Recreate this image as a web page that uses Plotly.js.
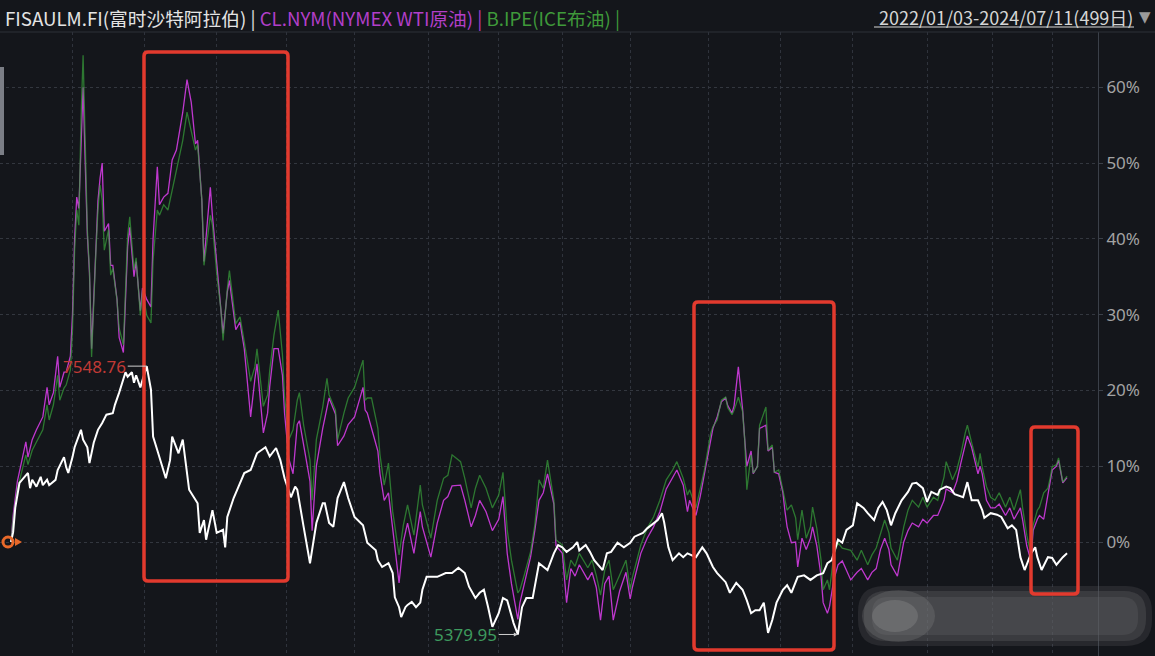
<!DOCTYPE html>
<html><head><meta charset="utf-8">
<script src="https://cdn.plot.ly/plotly-3.0.1.min.js"></script>
<style>html,body{margin:0;padding:0;background:#14161b;overflow:hidden;}#chart{width:1155px;height:656px;}</style>
</head><body><div id="chart"></div>
<script>
// ---------------- DATA (percent change vs 2022/01/03, x = trading-day index) ----------------
const seriesNames = ['FISAULM.FI(富时沙特阿拉伯)', 'CL.NYM(NYMEX WTI原油)', 'B.IPE(ICE布油)'];
const dateRangeText = '2022/01/03-2024/07/11(499日)';
const maxLabel = '7548.76';
const minLabel = '5379.95';

const whiteDays = [0,1,2,4,7,8,9,10,12,14,15,17,18,21,22,24,25,26,27,29,30,33,34,36,37,39,41,43,45,48,49,51,53,54,55,57,58,59,61,62,64,66,67,69,71,73,75,76,79,81,82,84,88,89,91,92,95,97,100,101,102,105,107,110,113,116,120,122,125,127,129,132,134,135,138,141,144,147,148,150,152,154,157,159,162,166,168,172,173,175,178,180,181,183,184,186,187,189,191,193,194,196,199,201,205,208,211,214,216,219,221,223,225,227,230,232,234,237,239,241,243,246,249,251,253,256,258,260,262,265,267,268,271,273,275,279,281,283,286,289,292,294,298,300,303,305,307,308,310,312,315,317,319,323,326,328,331,333,337,339,342,345,347,349,351,353,355,357,359,361,364,366,368,371,374,377,380,383,385,387,390,392,394,397,399,402,404,407,409,411,413,415,417,420,423,425,427,430,432,434,437,438,441,443,445,449,451,453,456,458,459,462,465,467,470,472,474,476,478,481,483,484,486,489,491,493,496,498];
const whitePct = [0,1.3,4.5,7.8,8.8,9.1,7.1,8.2,7.3,8.6,7.5,8.2,7.5,8.2,9.5,10.8,11.2,9.9,9.1,11.2,12.5,14.8,13.5,12.5,10.4,13.1,14.8,15.7,16.8,17.0,18.1,19.7,21.4,22.4,21.8,22.4,21.0,22.0,20.4,21.4,23.2,20.1,13.9,12.1,10.2,8.4,10.8,13.9,11.7,13.5,11.3,6.9,5.1,1.2,2.9,0.3,4.2,1.2,1.6,-0.7,3.3,5.8,7.1,9.1,9.5,11.7,12.5,11.3,12.4,10.8,8.4,5.9,7.3,6.9,2.0,-2.8,2.5,5.1,5.1,2.5,2.0,5.8,7.9,5.8,3.3,2.2,-0.1,-1.1,-2.4,-3.3,-2.8,-4.1,-7.3,-8.6,-9.9,-8.6,-8.3,-7.9,-8.6,-8.0,-6.3,-4.6,-4.6,-4.6,-4.1,-4.1,-3.4,-4.1,-5.9,-7.4,-6.7,-6.3,-8.6,-11.2,-9.4,-7.4,-7.7,-10.7,-12.2,-8.6,-7.4,-7.4,-2.8,-3.3,-3.7,-1.5,-0.4,-0.7,-1.3,-0.7,0.0,-1.1,-0.4,-1.3,-2.4,-3.7,-1.5,-1.3,-0.1,-0.7,-0.1,0.7,1.2,1.8,2.5,2.9,3.8,2.6,-0.7,-2.4,-1.5,-2.0,-1.5,-2.0,-0.7,-1.5,-3.3,-4.1,-5.3,-6.7,-5.4,-6.3,-7.7,-9.4,-9.0,-9.0,-8.0,-12.0,-10.3,-8.0,-6.3,-5.7,-6.7,-4.6,-4.4,-5.0,-4.4,-4.1,-2.8,-2.4,0.3,-0.1,1.6,2.2,5.1,4.5,3.8,2.9,4.5,5.3,4.2,2.2,3.8,5.5,6.6,7.7,7.8,7.1,5.3,6.6,6.2,6.9,7.3,7.1,6.3,5.9,7.9,5.5,5.5,4.2,3.2,3.8,3.6,3.3,1.8,2.2,1.6,-2.0,-3.7,-1.5,-0.7,-2.0,-3.7,-2.0,-2.1,-3.0,-2.0,-1.5];

const oilDays = [0,1,3,7,8,10,12,15,17,18,20,22,23,25,26,28,29,30,31,32,33,34,35,36,37,38,40,41,42,43,44,46,47,48,50,51,53,54,55,56,58,59,61,62,64,66,67,69,70,72,74,76,78,81,83,85,87,88,90,91,94,95,97,99,100,102,103,106,108,110,113,115,116,119,121,122,124,126,128,129,131,133,135,136,138,141,142,144,147,149,150,153,154,157,159,162,166,167,168,170,173,174,176,178,180,183,185,187,190,193,194,198,201,204,206,208,212,214,217,219,221,224,227,230,232,234,236,239,240,242,245,247,249,251,253,256,257,260,262,264,266,268,272,274,276,278,280,282,284,287,290,292,293,297,300,303,306,309,312,314,317,319,320,323,325,327,330,331,333,335,337,338,340,341,343,345,346,347,349,350,352,353,356,357,359,360,362,364,365,366,368,370,371,373,375,377,378,380,382,383,385,386,388,390,392,396,399,401,404,406,408,410,412,414,415,418,421,423,425,428,430,432,435,437,440,441,444,446,448,450,451,453,456,457,458,460,462,464,466,469,471,473,476,477,479,481,482,484,485,487,489,490,491,493,494,496,498];
const brentPct = [0,2.9,6.9,11.5,10.2,12.1,13.2,14.8,18.1,16.1,18.1,22.0,18.7,20.3,20.7,22.7,28.0,38.5,43.8,41.8,55.7,64.2,53.0,41.2,35.9,24.4,38.1,43.8,47.1,45.1,38.5,41.2,35.2,36.1,31.9,28.2,26.0,34.6,40.5,42.9,35.9,37.5,29.9,33.2,29.9,28.9,37.2,43.8,43.1,44.5,43.8,46.4,49.1,53.0,56.7,54.4,51.7,52.4,45.1,36.5,43.1,41.8,35.5,30.6,26.6,33.4,35.8,28.8,29.7,26.4,21.2,23.1,25.5,17.9,19.4,22.6,27.3,30.6,24.7,19.3,13.5,14.8,18.7,19.7,15.4,10.8,5.5,13.5,17.8,21.6,19.4,17.4,13.5,17.0,19.0,20.4,24.0,18.7,19.0,19.0,15.0,11.5,7.5,10.4,4.0,-1.7,2.2,4.9,0.9,7.5,4.9,0.5,5.5,8.4,8.8,11.5,10.6,8.4,4.5,7.1,8.8,7.1,4.5,6.2,9.2,1.6,-2.4,-6.7,-6.3,-4.4,-1.3,2.2,8.2,7.1,10.8,5.5,0.3,-0.4,-5.0,-2.4,-3.2,-1.5,-3.4,-2.4,-4.4,-7.0,-3.7,-2.4,-6.3,-4.4,-2.4,-6.3,-4.7,-0.4,1.8,3.3,5.5,8.2,9.5,10.6,8.4,6.2,6.9,4.5,6.9,9.5,14.4,15.2,16.1,18.7,19.1,17.7,16.8,17.4,19.1,17.2,13.5,6.9,11.5,9.1,9.9,15.4,17.8,12.1,12.8,9.2,9.5,6.9,5.5,4.2,4.9,3.2,0.3,4.2,0.5,2.0,4.6,1.8,-2.4,-6.3,-5.0,-6.3,-1.7,-0.1,-0.8,-1.1,-2.4,-1.1,-3.0,-1.7,-0.8,1.2,2.9,1.2,-0.8,-2.4,2.0,4.2,5.5,4.6,5.9,4.6,5.9,5.5,8.6,10.6,8.2,9.5,11.7,14.4,15.4,13.1,9.9,11.7,9.9,7.3,5.9,5.5,6.5,4.6,5.9,4.2,6.9,4.6,0.9,-1.7,2.2,4.2,4.6,6.5,7.1,8.4,9.9,10.2,11.1,7.9,8.7];
const wtiPct = [0,3.5,8.0,13.2,11.2,13.5,14.8,16.5,20.4,18.1,19.7,24.5,20.4,22.4,22.4,24.5,30.0,40.0,45.5,44.0,52.0,60.0,50.0,40.5,35.5,25.5,38.5,45.0,48.0,50.0,41.0,42.0,36.5,36.5,32.0,27.0,25.0,33.5,39.0,41.5,35.0,37.0,30.5,33.5,32.0,31.0,40.0,49.5,44.5,45.5,46.0,50.4,51.7,56.7,61.0,58.0,52.5,53.0,45.0,37.0,46.8,43.0,37.0,31.5,27.5,33.0,34.5,28.0,29.0,25.5,16.5,21.5,23.5,14.4,17.0,20.5,25.5,25.5,22.0,17.0,11.0,9.0,15.5,16.0,13.0,8.0,1.5,10.0,15.0,18.0,19.0,16.9,12.7,14.0,15.5,16.5,20.4,17.4,17.0,15.0,12.0,9.0,5.5,6.5,1.5,-5.4,0.0,2.5,-1.5,4.0,2.0,-2.0,2.5,5.5,6.0,7.4,7.5,5.5,2.0,3.5,5.5,4.0,1.5,3.0,6.0,-1.5,-5.5,-10.2,-8.0,-5.5,-2.0,1.5,5.5,6.5,9.0,5.0,-0.5,-1.5,-8.0,-3.5,-4.5,-3.0,-5.0,-4.0,-6.0,-10.3,-5.5,-4.5,-10.3,-6.5,-4.0,-7.5,-6.0,-1.5,0.5,2.0,4.0,7.0,8.5,9.5,7.5,4.0,5.5,3.5,6.0,9.0,14.0,15.0,16.5,18.5,19.0,18.0,17.0,18.0,23.1,17.5,13.5,10.0,12.0,9.0,10.0,15.0,15.4,12.0,12.5,9.2,9.0,6.5,4.0,2.0,-0.1,0.0,-3.3,0.5,-1.0,0.5,2.0,-0.5,-4.5,-8.0,-9.4,-8.5,-5.0,-3.0,-2.5,-5.0,-4.0,-3.5,-5.0,-4.0,-3.5,-1.0,0.5,-1.0,-3.0,-4.5,0.0,1.5,2.5,2.0,3.0,2.5,3.5,3.5,5.5,7.0,6.5,8.0,10.5,13.0,14.0,12.5,9.0,10.0,9.0,5.5,4.5,4.5,5.0,3.5,4.5,3.0,4.5,3.0,-0.5,-2.5,1.5,3.0,3.5,3.0,6.5,8.0,9.5,10.0,10.8,7.8,8.5];

const yTickVals = [0,10,20,30,40,50,60];
const yTickText = ['0%','10%','20%','30%','40%','50%','60%'];
const gridDays = [29,63,97,130,162,197,230,260,292,329,363,397,432,463,491];

// ---------------- LAYOUT HELPERS (pixel geometry) ----------------
const W = 1155, H = 656, PL = 0, PR = 1098, PT = 32, PB = 656;
const px = x => (x - PL) / (PR - PL);
const py = y => (PB - y) / (PB - PT);
function roundRect(x0, y0, x1, y1, r) {
  const a = px(x0), b = px(x1), c = py(y0), d = py(y1);
  const rx = r / (PR - PL), ry = r / (PB - PT);
  return `M${a+rx},${c} L${b-rx},${c} Q${b},${c} ${b},${c-ry} L${b},${d+ry} Q${b},${d} ${b-rx},${d} L${a+rx},${d} Q${a},${d} ${a},${d+ry} L${a},${c-ry} Q${a},${c} ${a+rx},${c} Z`;
}
const RED = '#e23a2e';
const boxes = [[144,52,288,581],[694,302,834,650],[1031,427,1078,594]];

const shapes = [];
// blurred redaction blob bottom-right (layered to fake a blur)
shapes.push({type:'path', xref:'paper', yref:'paper', path: roundRect(858,586,1152,646,26), fillcolor:'rgba(95,95,98,0.25)', line:{width:0}, layer:'above'});
shapes.push({type:'path', xref:'paper', yref:'paper', path: roundRect(864,591,1146,641,22), fillcolor:'rgba(95,95,98,0.35)', line:{width:0}, layer:'above'});
shapes.push({type:'path', xref:'paper', yref:'paper', path: roundRect(872,597,1138,635,16), fillcolor:'rgba(100,100,103,0.3)', line:{width:0}, layer:'above'});
shapes.push({type:'circle', xref:'paper', yref:'paper', x0:px(862), x1:px(935), y0:py(642), y1:py(590), fillcolor:'rgba(150,150,150,0.22)', line:{width:0}, layer:'above'});
shapes.push({type:'circle', xref:'paper', yref:'paper', x0:px(872), x1:px(918), y0:py(632), y1:py(600), fillcolor:'rgba(165,165,165,0.25)', line:{width:0}, layer:'above'});
// red boxes
boxes.forEach(b => shapes.push({type:'path', xref:'paper', yref:'paper', path: roundRect(b[0],b[1],b[2],b[3],4), line:{color:RED, width:3.5}, fillcolor:'rgba(0,0,0,0)', layer:'above'}));
// header separator and underline
shapes.push({type:'line', xref:'paper', yref:'paper', x0:0, x1:px(W), y0:py(32), y1:py(32), line:{color:'#2c3038', width:1}});
shapes.push({type:'line', xref:'paper', yref:'paper', x0:px(874), x1:px(1134), y0:py(27), y1:py(27), line:{color:'#d6d6d6', width:1}});
// left scroll handle
shapes.push({type:'rect', xref:'paper', yref:'paper', x0:0, x1:px(4), y0:py(155), y1:py(67), fillcolor:'#7b7e86', line:{width:0}});
// orange start marker
shapes.push({type:'circle', xref:'paper', yref:'paper', x0:px(3), x1:px(13), y0:py(547), y1:py(537), line:{color:'#e8692a', width:3}, fillcolor:'rgba(0,0,0,0)', layer:'above'});
shapes.push({type:'path', xref:'paper', yref:'paper', path:`M${px(15)},${py(538)} L${px(22)},${py(542)} L${px(15)},${py(546)} Z`, fillcolor:'#e8692a', line:{width:0}, layer:'above'});

// max / min annotations derived from data
let iMax = 0, iMin = 0;
whitePct.forEach((v,i) => { if (v > whitePct[iMax]) iMax = i; if (v < whitePct[iMin]) iMin = i; });

const hdrFont = 'Noto Sans CJK SC, Noto Sans, sans-serif';
const annotations = [
  {xref:'paper', yref:'paper', x:px(3), y:py(17), xanchor:'left', yanchor:'middle', showarrow:false,
   font:{family:hdrFont, size:18.7},
   text:`<span style="color:#e4e4e4">${seriesNames[0]} | </span><span style="color:#b23fc9">${seriesNames[1]} | </span><span style="color:#3f9a3a">${seriesNames[2]} |</span>`},
  {xref:'paper', yref:'paper', x:px(1135), y:py(17), xanchor:'right', yanchor:'middle', showarrow:false,
   font:{family:hdrFont, size:18, color:'#d6d6d6'}, text:dateRangeText},
  {xref:'paper', yref:'paper', x:px(1145), y:py(17), xanchor:'center', yanchor:'middle', showarrow:false,
   font:{family:'DejaVu Sans, sans-serif', size:15, color:'#9a9a9a'}, text:'▼'},
  {x: whiteDays[iMax], y: whitePct[iMax], xref:'x', yref:'y', text: maxLabel, showarrow:true, arrowhead:0, arrowwidth:1, arrowcolor:'#cfcfcf',
   ax:-52, ay:0, standoff:0, font:{family:'Noto Sans, sans-serif', size:17, color:'#c23a36'}},
  {x: whiteDays[iMin], y: whitePct[iMin], xref:'x', yref:'y', text: minLabel, showarrow:true, arrowhead:2, arrowsize:0.8, arrowwidth:1, arrowcolor:'#cfcfcf',
   ax:-52, ay:0, standoff:0, font:{family:'Noto Sans, sans-serif', size:17, color:'#3e9a5e'}}
];

const traces = [
  {x: oilDays, y: wtiPct, type:'scatter', mode:'lines', name: seriesNames[1], line:{color:'#c83ad8', width:1.3}, opacity:0.95, hoverinfo:'skip'},
  {x: oilDays, y: brentPct, type:'scatter', mode:'lines', name: seriesNames[2], line:{color:'#38a13a', width:1.3}, opacity:0.7, hoverinfo:'skip'},
  {x: whiteDays, y: whitePct, type:'scatter', mode:'lines', name: seriesNames[0], line:{color:'#ffffff', width:2}, hoverinfo:'skip'}
];

const layout = {
  width: W, height: H,
  margin: {l: PL, r: W - PR, t: PT, b: H - PB, pad: 0},
  paper_bgcolor: '#14161b', plot_bgcolor: '#14161b',
  showlegend: false,
  xaxis: {range: [-5.19, 512.6], tickvals: gridDays, showticklabels: false, ticks: '', showgrid: true,
          gridcolor: '#2f333c', griddash: 'dot', gridwidth: 1, zeroline: false, showline: false, fixedrange: true},
  yaxis: {range: [(542 - 656) / 7.58, (542 - 32) / 7.58], side: 'right', tickvals: yTickVals, ticktext: yTickText,
          showgrid: true, gridcolor: '#33373f', griddash: 'dot', gridwidth: 1, zeroline: false,
          showline: true, linecolor: '#3b4049', linewidth: 1, ticks: 'outside', ticklen: 4, tickcolor: '#3b4049',
          tickfont: {family: 'Noto Sans, sans-serif', size: 17, color: '#a3a3a3'}, fixedrange: true},
  shapes: shapes,
  annotations: annotations
};

Plotly.newPlot('chart', traces, layout, {displayModeBar: false, staticPlot: true});
</script>
</body></html>
